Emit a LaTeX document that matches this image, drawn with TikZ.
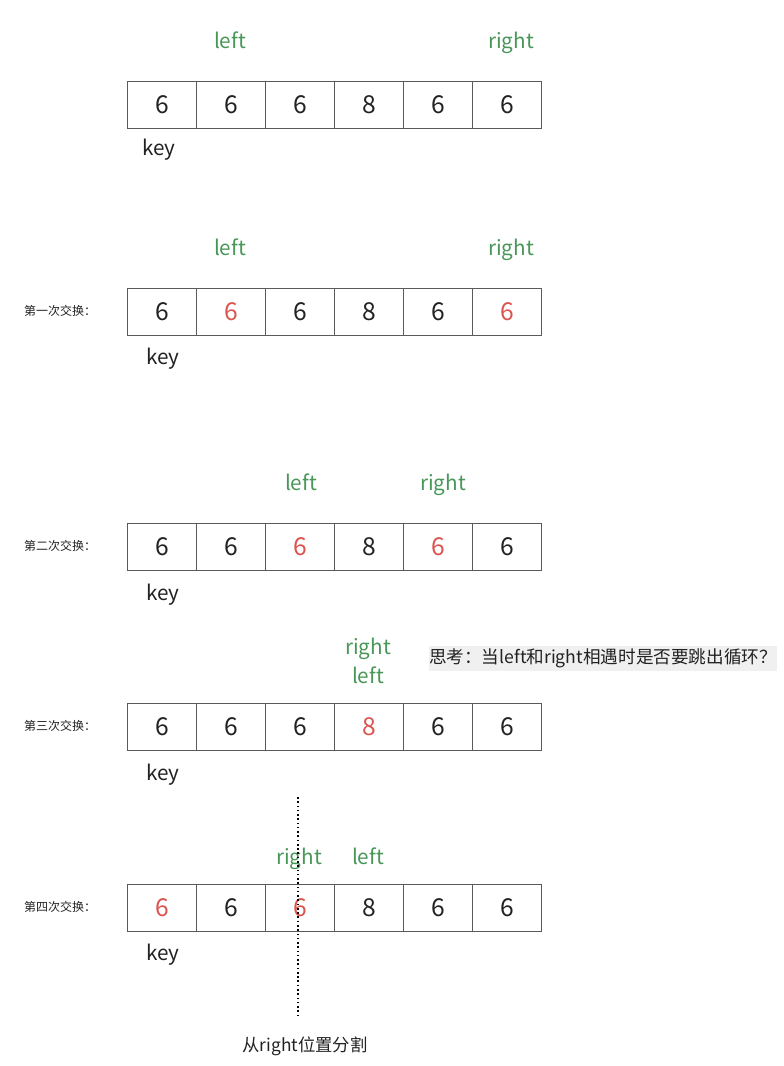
\documentclass[tikz,border=0pt]{standalone}
\usepackage{fontspec}
\setmainfont{Noto Sans CJK SC}
\definecolor{gr}{RGB}{72,150,88}
\definecolor{rd}{RGB}{218,84,80}
\definecolor{tx}{RGB}{34,34,34}
\definecolor{bd}{RGB}{90,90,90}
\definecolor{bgq}{RGB}{240,240,240}
\begin{document}
\begin{tikzpicture}[x=0.75pt,y=-0.75pt,
  cell/.style={draw=bd,line width=0.8pt,minimum width=69*0.75pt,minimum height=47*0.75pt,inner sep=0pt,anchor=north west,font=\fontsize{18.5}{22}\selectfont,text=tx},
  ptr/.style={text=gr,font=\fontsize{15.5}{18}\selectfont,inner sep=0pt,text height=11pt,text depth=4pt},
  keyl/.style={text=tx,font=\fontsize{15.5}{18}\selectfont,inner sep=0pt,text height=11pt,text depth=4pt},
  side/.style={text=tx,font=\fontsize{9}{11}\selectfont,inner sep=0pt},
  hl/.style={text=rd}]
\useasboundingbox (0,0) rectangle (784,1066);
\newcommand{\arrrow}[8]{%
  \node[cell,#2] (#1a) at (127,#8) {6};
  \node[cell,#3] (#1b) at (196,#8) {6};
  \node[cell,#4] (#1c) at (265,#8) {6};
  \node[cell,#5] (#1d) at (334,#8) {8};
  \node[cell,#6] (#1e) at (403,#8) {6};
  \node[cell,#7] (#1f) at (472,#8) {6};}
% row 1
\arrrow{r1}{}{}{}{}{}{}{81}
\node[ptr] (l1) at (230,44) {left};
\node[ptr] (g1) at (511,44) {right};
\node[keyl] (k1) at (159,151) {key};
% row 2
\arrrow{r2}{}{hl}{}{}{}{hl}{288}
\node[ptr] (l2) at (230,251) {left};
\node[ptr] (g2) at (511,251) {right};
\node[keyl] (k2) at (163,360) {key};
\node[side] (s2) at (60,311) {第一次交换：};
% row 3
\arrrow{r3}{}{}{hl}{}{hl}{}{523}
\node[ptr] (l3) at (301,486) {left};
\node[ptr] (g3) at (443,486) {right};
\node[keyl] (k3) at (163,596) {key};
\node[side] (s3) at (60,546) {第二次交换：};
% row 4
\arrrow{r4}{}{}{}{hl}{}{}{703}
\node[ptr] (g4) at (368,650) {right};
\node[ptr] (l4) at (368,679) {left};
\node[keyl] (k4) at (163,776) {key};
\node[side] (s4) at (60,726) {第三次交换：};
\node[fill=bgq,text=tx,font=\fontsize{13.2}{15}\selectfont,minimum width=346*0.75pt,minimum height=25*0.75pt,inner sep=0pt] (q) at (603,658) {思考：当left和right相遇时是否要跳出循环？};
% row 5
\arrrow{r5}{hl}{}{hl}{}{}{}{884}
\node[ptr] (g5) at (299,860) {right};
\node[ptr] (l5) at (368,860) {left};
\node[keyl] (k5) at (163,956) {key};
\node[side] (s5) at (60,907) {第四次交换：};
\coordinate (d1) at (298,797);
\coordinate (d2) at (298,1018);
\draw[dotted,line width=1.2pt,black] (d1) -- (d2);
\node[text=tx,font=\fontsize{13}{15}\selectfont,inner sep=0pt] (sp) at (305,1046) {从right位置分割};
\end{tikzpicture}
\end{document}
